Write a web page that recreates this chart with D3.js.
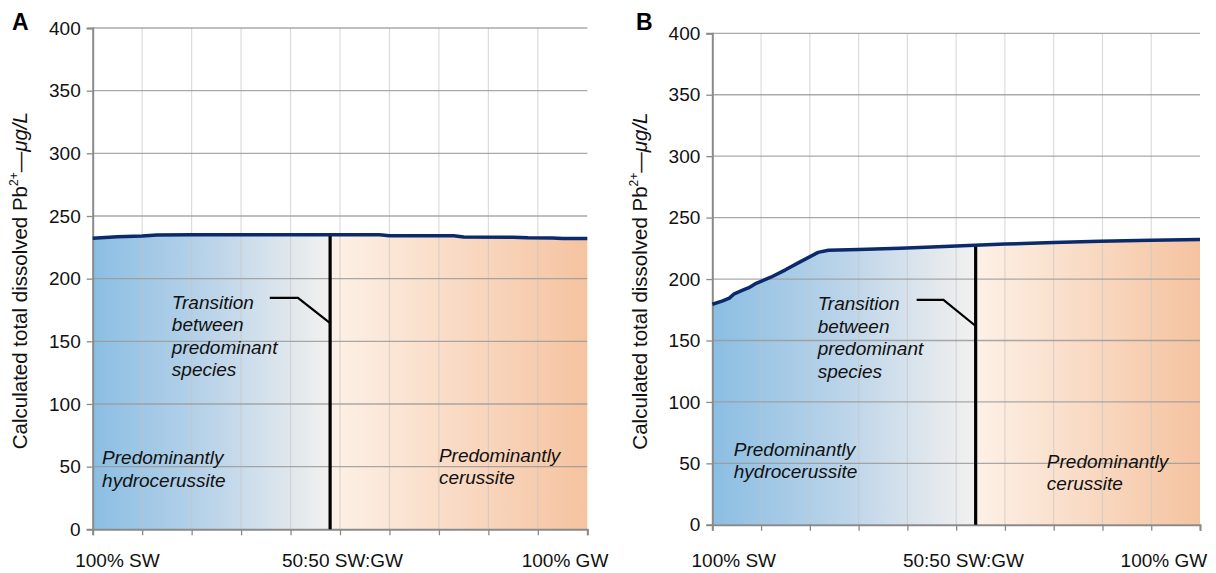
<!DOCTYPE html>
<html>
<head>
<meta charset="utf-8">
<script src="https://cdn.jsdelivr.net/npm/d3@7"></script>
<style>
  html, body { margin: 0; padding: 0; background: #fff; }
  svg { display: block; font-family: "Liberation Sans", Arial, Helvetica, sans-serif; }
</style>
</head>
<body>
<svg id="chart" width="1216" height="573"></svg>
<script>
// Mixing axis: share of groundwater in the blend, 0 = 100% surface water
const yTicks = [0, 50, 100, 150, 200, 250, 300, 350, 400];
const xLabels = ["100% SW", "50:50 SW:GW", "100% GW"];
const xLabelPosA = [5, 50.5, 95.5];
const xLabelPosB = [4.4, 51.5, 92.6];

// Panel A: calculated total dissolved Pb2+ (µg/L)
const gwShareA = [0, 5, 10, 13, 20, 30, 40, 50, 58, 60, 73, 75, 85, 88, 93, 95, 100];
const pbA      = [232.2, 233.5, 234.0, 234.8, 235.0, 235.0, 235.0, 235.0, 235.0, 234.3, 234.2, 233.2, 233.1, 232.6, 232.5, 232.0, 232.0];
const transitionA = 48;

// Panel B: calculated total dissolved Pb2+ (µg/L)
const gwShareB = [0, 2, 3.5, 4.5, 6, 7.5, 9, 12, 15, 18, 21.7, 23.8, 30, 38.5, 45, 53.8, 60, 70, 79.5, 90, 100];
const pbB      = [179.5, 182.0, 184.5, 188.0, 190.5, 193.0, 196.5, 201.5, 207.5, 214.0, 221.7, 223.4, 224.0, 225.0, 226.0, 227.6, 228.5, 229.7, 230.7, 231.5, 232.2];
const transitionB = 54;

const panels = [
  { id: "A", letter: "A", left: 92.7, right: 587.3, top: 28, bottom: 529.3,
    xs: gwShareA, ys: pbA, transition: transitionA, labelPos: xLabelPosA,
    letterX: 12, titleX: 27,
    transText: { x: 16.0, y: 175.8 }, leader: [[35.8, 184.6], [41.5, 184.6]], leaderEnd: 164.6,
    hydro: { x: 1.9, y: 52 }, ceru: { x: 70, y: 54 } },
  { id: "B", letter: "B", left: 712.3, right: 1200, top: 33.3, bottom: 524.8,
    xs: gwShareB, ys: pbB, transition: transitionB, labelPos: xLabelPosB,
    letterX: 636, titleX: 647,
    transText: { x: 21.6, y: 174.5 }, leader: [[41.9, 183], [47.4, 183]], leaderEnd: 161.8,
    hydro: { x: 4.4, y: 56 }, ceru: { x: 68.6, y: 46.5 } }
];

const svg = d3.select("#chart");
const defs = svg.append("defs");
const font = 19;
const titleFont = 20.5;

panels.forEach(p => {
  const x = d3.scaleLinear().domain([0, 100]).range([p.left, p.right]);
  const y = d3.scaleLinear().domain([0, 400]).range([p.bottom, p.top]);
  const g = svg.append("g");
  const tFrac = p.transition / 100;

  // Two-part horizontal gradient: blue to grey up to the transition, then pale peach to peach
  const grad = defs.append("linearGradient")
    .attr("id", "fill" + p.id)
    .attr("gradientUnits", "userSpaceOnUse")
    .attr("x1", x(0)).attr("x2", x(100)).attr("y1", 0).attr("y2", 0);
  [[0, "#8bbee3"], [tFrac * 0.5, "#bbd4e9"], [tFrac, "#f3f1ef"],
   [tFrac, "#fdf1e7"], [1, "#f5c3a0"]].forEach(([o, c]) =>
    grad.append("stop").attr("offset", o).attr("stop-color", c));

  const pts = p.xs.map((v, i) => [v, p.ys[i]]);

  // Area under the curve
  g.append("path")
    .datum(pts)
    .attr("d", d3.area().x(d => x(d[0])).y0(y(0)).y1(d => y(d[1])))
    .attr("fill", `url(#fill${p.id})`);

  // Vertical gridlines
  g.append("g").selectAll("line")
    .data(x.ticks(10).slice(1, -1))
    .join("line")
    .attr("x1", d => x(d)).attr("x2", d => x(d))
    .attr("y1", y(400)).attr("y2", y(0))
    .attr("stroke", "#c4c4c4").attr("stroke-opacity", 0.6).attr("stroke-width", 1.2);

  // Horizontal gridlines
  g.append("g").selectAll("line")
    .data(yTicks.slice(1))
    .join("line")
    .attr("x1", x(0)).attr("x2", x(100))
    .attr("y1", d => y(d)).attr("y2", d => y(d))
    .attr("stroke", "#9a9a9a").attr("stroke-opacity", 0.85).attr("stroke-width", 1.3);

  // Y axis
  const yAxis = g.append("g")
    .attr("transform", `translate(${x(0)},0)`)
    .call(d3.axisLeft(y).tickValues(yTicks).tickSize(6).tickPadding(6));
  yAxis.select(".domain").attr("stroke", "#8a8a8a").attr("stroke-width", 2);
  yAxis.selectAll(".tick line").attr("stroke", "#8a8a8a").attr("stroke-width", 1.3);
  yAxis.selectAll("text").attr("font-size", font).attr("fill", "#111").attr("font-family", "Liberation Sans, Arial, sans-serif");

  // X axis (ticks only; labels placed separately)
  const xAxis = g.append("g")
    .attr("transform", `translate(0,${y(0)})`)
    .call(d3.axisBottom(x).ticks(10).tickSize(6).tickFormat(""));
  xAxis.select(".domain").attr("stroke", "#8a8a8a").attr("stroke-width", 2);
  xAxis.selectAll(".tick line").attr("stroke", "#8a8a8a").attr("stroke-width", 1.3);

  g.append("g").selectAll("text")
    .data(xLabels)
    .join("text")
    .attr("x", (d, i) => x(p.labelPos[i]))
    .attr("y", 567)
    .attr("text-anchor", "middle")
    .attr("font-size", font).attr("fill", "#111")
    .text(d => d);

  // Transition marker
  const topVal = d3.scaleLinear().domain(p.xs).range(p.ys)(p.transition);
  g.append("line")
    .attr("x1", x(p.transition)).attr("x2", x(p.transition))
    .attr("y1", y(0)).attr("y2", y(topVal))
    .attr("stroke", "#000").attr("stroke-width", 3.2);

  // Curve
  g.append("path")
    .datum(pts)
    .attr("d", d3.line().x(d => x(d[0])).y(d => y(d[1])))
    .attr("fill", "none")
    .attr("stroke", "#0b2a6c").attr("stroke-width", 3.5)
    .attr("stroke-linejoin", "round");

  // Leader line from the annotation to the transition marker
  const leaderPts = [...p.leader, [p.transition, p.leaderEnd]];
  g.append("path")
    .attr("d", d3.line().x(d => x(d[0])).y(d => y(d[1]))(leaderPts))
    .attr("fill", "none").attr("stroke", "#000").attr("stroke-width", 2.2);

  const italicBlock = (lines, pos) => {
    const t = g.append("text")
      .attr("x", x(pos.x)).attr("y", y(pos.y))
      .attr("font-size", font).attr("font-style", "italic").attr("fill", "#111");
    lines.forEach((s, i) => t.append("tspan")
      .attr("x", x(pos.x)).attr("dy", i === 0 ? 0 : 22.5).text(s));
  };
  italicBlock(["Transition", "between", "predominant", "species"], p.transText);
  italicBlock(["Predominantly", "hydrocerussite"], p.hydro);
  italicBlock(["Predominantly", "cerussite"], p.ceru);

  // Panel letter
  svg.append("text")
    .attr("x", p.letterX).attr("y", 30)
    .attr("font-size", 23).attr("font-weight", "bold").attr("fill", "#000")
    .text(p.letter);

  // Y axis title
  const cy = (y(0) + y(400)) / 2 + 2;
  const title = svg.append("text")
    .attr("transform", `translate(${p.titleX},${cy}) rotate(-90)`)
    .attr("text-anchor", "middle")
    .attr("font-size", titleFont).attr("fill", "#111");
  title.append("tspan").text("Calculated total dissolved Pb");
  title.append("tspan").attr("font-size", 12).attr("dy", -9).text("2+");
  title.append("tspan").attr("dy", 9).text("—");
  title.append("tspan").attr("font-style", "italic").text("μg/L");
});
</script>
</body>
</html>
